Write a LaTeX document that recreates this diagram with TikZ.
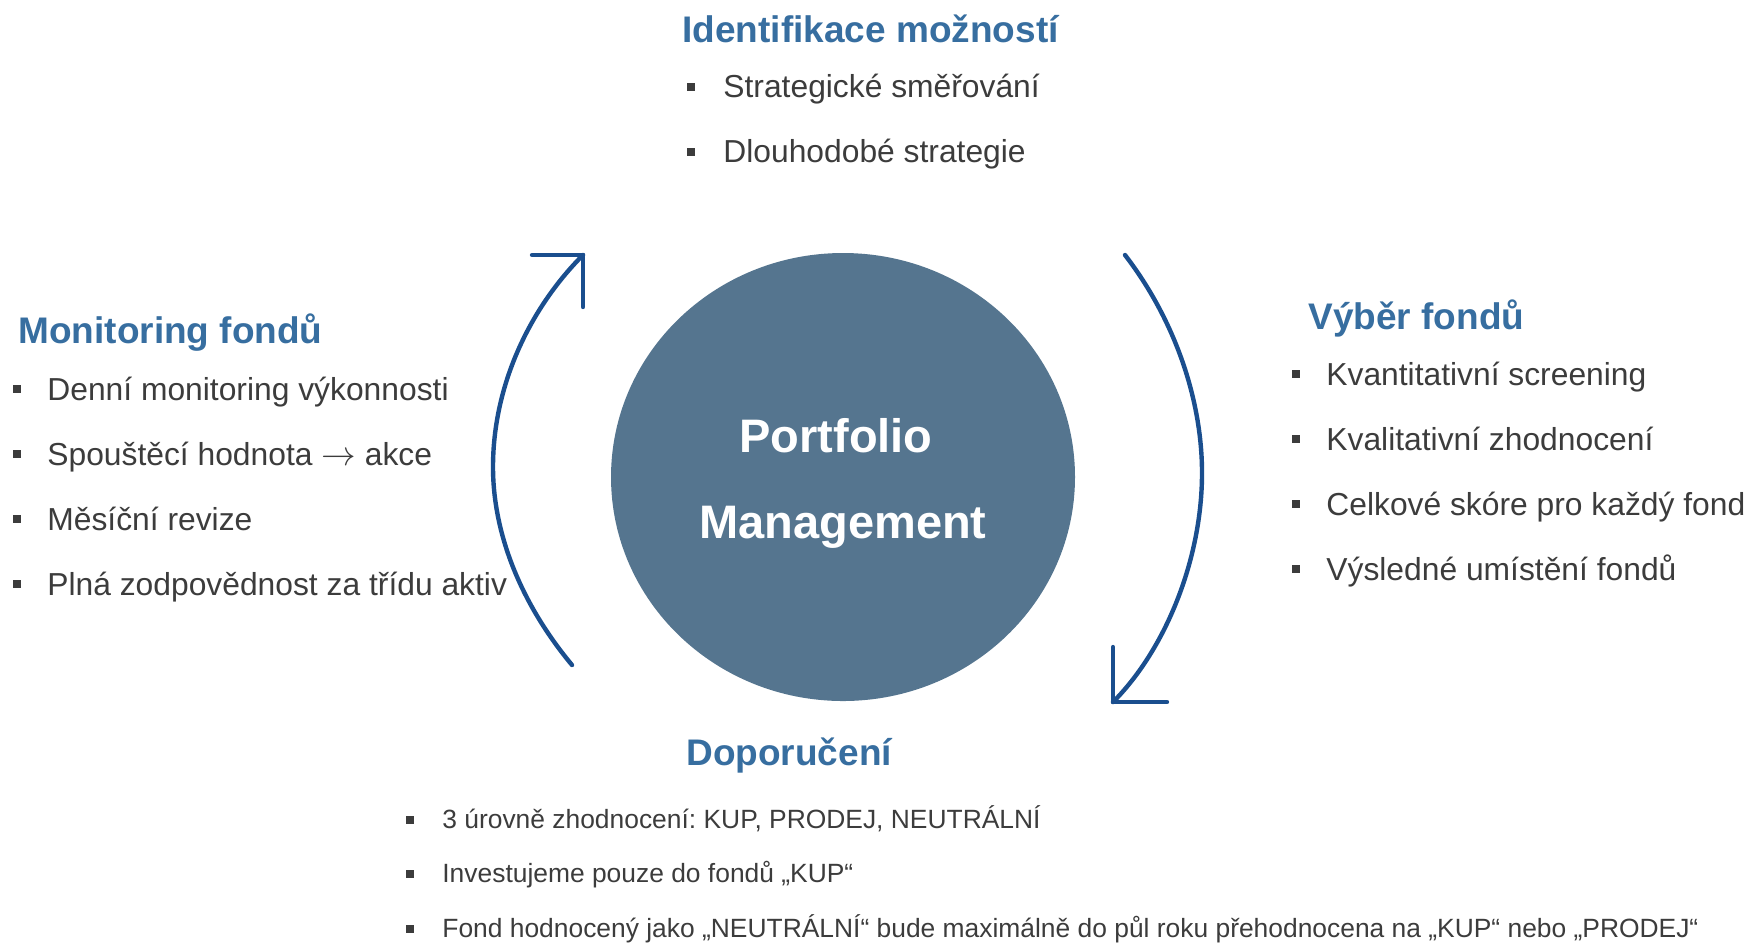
\documentclass[tikz,border=0pt]{standalone}
\usepackage{fontspec}
\setmainfont{Liberation Sans}
\usetikzlibrary{shapes.geometric}
\definecolor{ttlblue}{RGB}{55,110,160}
\definecolor{circfill}{RGB}{85,117,143}
\definecolor{arrblue}{RGB}{26,78,142}
\definecolor{txtgray}{RGB}{60,60,60}
\frenchspacing
\begin{document}
\begin{tikzpicture}[x=0.5pt,y=-0.5pt,
  ttl/.style={anchor=base west,inner sep=0pt,text=ttlblue,font=\fontsize{18.5pt}{22pt}\selectfont\bfseries},
  body/.style={anchor=base west,inner sep=0pt,text=txtgray,font=\fontsize{15.9pt}{19pt}\selectfont},
  small/.style={anchor=base west,inner sep=0pt,text=txtgray,font=\fontsize{13.2pt}{16pt}\selectfont},
  bul/.style={fill=txtgray,draw=none,inner sep=0pt,minimum size=4.2pt,rectangle},
  sbul/.style={fill=txtgray,draw=none,inner sep=0pt,minimum size=3.6pt,rectangle},
  ptext/.style={anchor=base,inner sep=0pt,text=white,font=\fontsize{23.5pt}{28pt}\selectfont\bfseries},
  cyc/.style={draw=arrblue,line width=2.2pt,line cap=round,line join=round}
]
\useasboundingbox (0,0) rectangle (1749,944);

% central circle
\node[ellipse,fill=circfill,draw=none,minimum width=232pt,minimum height=224pt,inner sep=0pt] (pm) at (843,477) {};
\node[ptext] (pm1) at (836,452) {Portfolio};
\node[ptext] (pm2) at (843,538) {Management};

% top
\node[ttl] (t1) at (682,42) {Identifikace možností};
\node[bul] (t1b1) at (691,87) {};
\node[body] (t1l1) at (723,97) {Strategické směřování};
\node[bul] (t1b2) at (691,152) {};
\node[body] (t1l2) at (723,162) {Dlouhodobé strategie};

% left
\node[ttl] (t2) at (18,343) {Monitoring fondů};
\node[bul] (t2b1) at (17,389) {};
\node[body] (t2l1) at (47,400) {Denní monitoring výkonnosti};
\node[bul] (t2b2) at (17,454) {};
\node[body] (t2l2) at (47,465) {Spouštěcí hodnota $\rightarrow$ akce};
\node[bul] (t2b3) at (17,519) {};
\node[body] (t2l3) at (47,530) {Měsíční revize};
\node[bul] (t2b4) at (17,584) {};
\node[body] (t2l4) at (47,595) {Plná zodpovědnost za třídu aktiv};

% right
\node[ttl] (t3) at (1308,329) {Výběr fondů};
\node[bul] (t3b1) at (1296,374) {};
\node[body] (t3l1) at (1326,385) {Kvantitativní screening};
\node[bul] (t3b2) at (1296,439) {};
\node[body] (t3l2) at (1326,450) {Kvalitativní zhodnocení};
\node[bul] (t3b3) at (1296,504) {};
\node[body] (t3l3) at (1326,515) {Celkové skóre pro každý fond};
\node[bul] (t3b4) at (1296,569) {};
\node[body] (t3l4) at (1326,580) {Výsledné umístění fondů};

% bottom
\node[ttl] (t4) at (686,765) {Doporučení};
\node[sbul] (t4b1) at (410,820) {};
\node[small] (t4l1) at (442,828) {3 úrovně zhodnocení: KUP, PRODEJ, NEUTRÁLNÍ};
\node[sbul] (t4b2) at (410,874) {};
\node[small] (t4l2) at (442,882) {Investujeme pouze do fondů „KUP“};
\node[sbul] (t4b3) at (410,929) {};
\node[small] (t4l3) at (442,937) {Fond hodnocený jako „NEUTRÁLNÍ“ bude maximálně do půl roku přehodnocena na „KUP“ nebo „PRODEJ“};

% cycle arrows
\coordinate (la0) at (572,665);
\coordinate (la1) at (493,467);
\coordinate (la2) at (583,255);
\draw[cyc] (la0) .. controls (522,605) and (493,535) .. (la1) .. controls (493,385) and (530,308) .. (la2);
\draw[cyc] (la2) -- ++(-51,0);
\draw[cyc] (la2) -- ++(0,52);

\coordinate (ra0) at (1125,255);
\coordinate (ra1) at (1202,473);
\coordinate (ra2) at (1113,702);
\draw[cyc] (ra0) .. controls (1175,320) and (1202,400) .. (ra1) .. controls (1202,560) and (1165,650) .. (ra2);
\draw[cyc] (ra2) -- ++(54,0);
\draw[cyc] (ra2) -- ++(0,-55);
\end{tikzpicture}
\end{document}
